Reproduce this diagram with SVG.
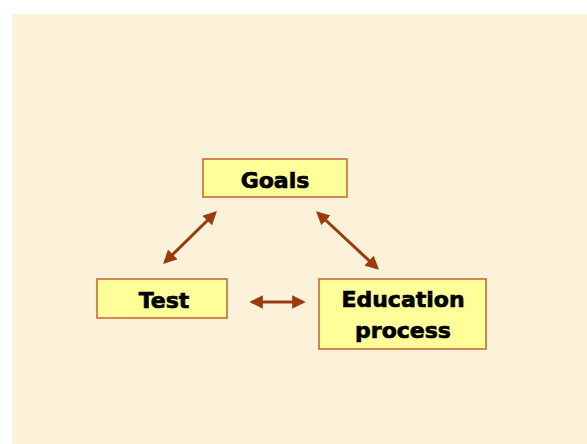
<svg xmlns="http://www.w3.org/2000/svg" width="587" height="444" viewBox="0 0 587 444">
<defs>
<style>
.box{fill:#FFFF99;stroke:#C4622D;stroke-width:1.5}
.lbl{font-family:"DejaVu Sans",Verdana,sans-serif;font-weight:bold;font-size:22px;fill:#000;stroke:#000;stroke-width:0.7;text-anchor:middle}
.con{stroke:#9C3A0E;stroke-width:3;fill:none;marker-start:url(#ah);marker-end:url(#ah)}
</style>
<marker id="ah" viewBox="0 0 10 10" refX="8" refY="5" markerWidth="4.5" markerHeight="4.5" orient="auto-start-reverse" markerUnits="strokeWidth">
<path d="M0,0 L10,5 L0,10 z" fill="#9C3A0E"/>
</marker>
</defs>
<rect x="0" y="0" width="587" height="444" fill="#ffffff"/>
<rect x="12" y="14" width="575" height="430" fill="#FCF2DA"/>
<g id="connectors">
<line class="con" x1="165" y1="262" x2="215" y2="213"/>
<line class="con" x1="318" y1="213" x2="377" y2="268"/>
<line class="con" x1="252" y1="302" x2="303" y2="302"/>
</g>
<g id="goals">
<rect class="box" x="203" y="159" width="144" height="38"/>
<text class="lbl" x="275" y="188">Goals</text>
</g>
<g id="test">
<rect class="box" x="97" y="279" width="130" height="39"/>
<text class="lbl" x="164" y="308">Test</text>
</g>
<g id="education">
<rect class="box" x="319" y="279" width="167" height="70"/>
<text class="lbl" x="403" y="307">Education</text>
<text class="lbl" x="403" y="338">process</text>
</g>
</svg>
